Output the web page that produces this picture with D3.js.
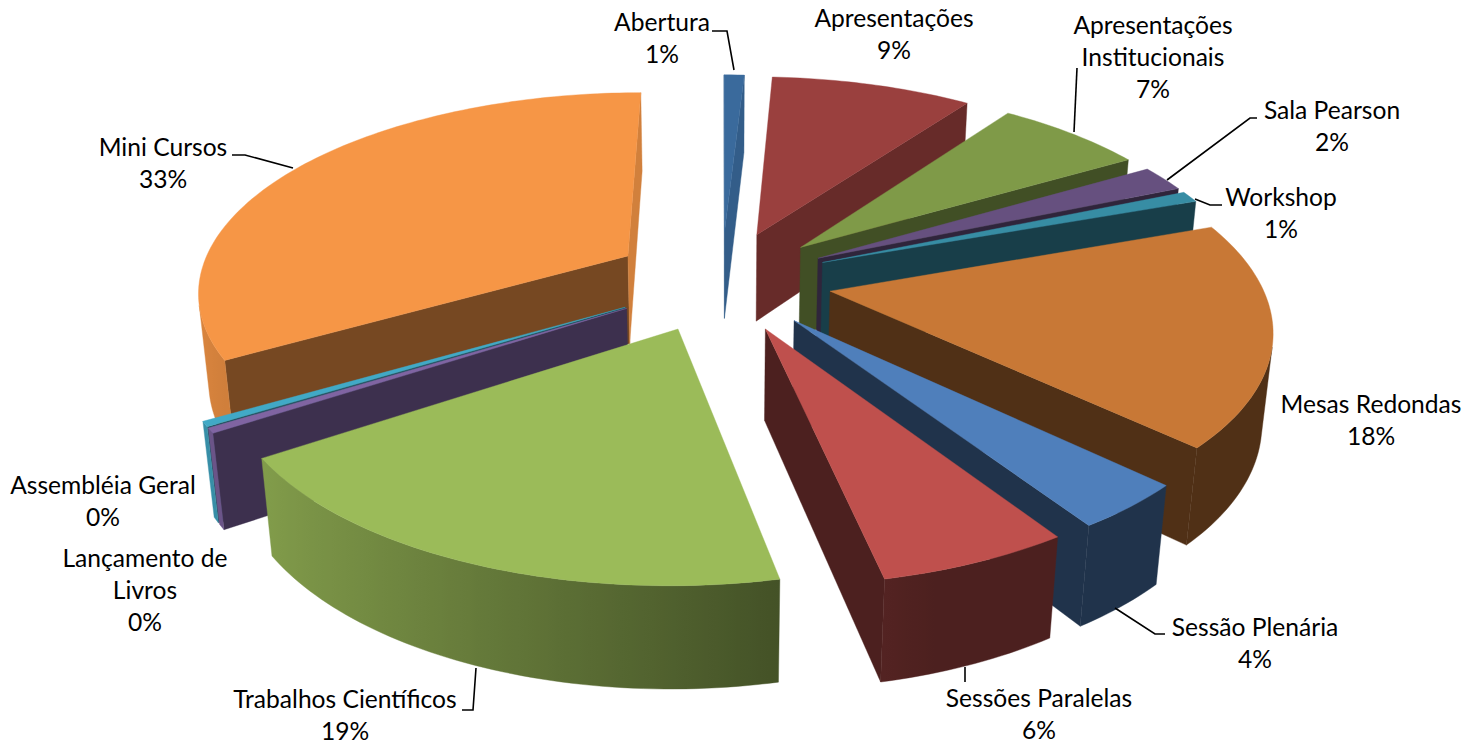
<!DOCTYPE html>
<html><head><meta charset="utf-8">
<script src="https://cdn.jsdelivr.net/npm/d3@7"></script>
<style>html,body{margin:0;background:#fff}svg{display:block}text{font-family:Lato,"Open Sans",sans-serif;font-size:24.6px;fill:#000}</style>
</head><body><svg id="c" width="1466" height="745"></svg>
<script>
const categories=["Abertura","Apresentações","Apresentações Institucionais","Sala Pearson","Workshop","Mesas Redondas","Sessão Plenária","Sessões Paralelas","Trabalhos Científicos","Lançamento de Livros","Assembléia Geral","Mini Cursos"];
const values=[0.9,9.0,6.6,2.1,0.9,17.6,3.6,5.9,19.0,0.4,0.4,33.4];
const colors=["#3a6a9c","#9a403e","#7f9a48","#66507f","#378da4","#c87836","#4f7fbb","#bf504d","#9bbb59","#8064a2","#41a9c6","#f69646"];
const labelLines=[["Abertura"],["Apresentações"],["Apresentações","Institucionais"],["Sala Pearson"],["Workshop"],["Mesas Redondas"],["Sessão Plenária"],["Sessões Paralelas"],["Trabalhos Científicos"],["Lançamento de","Livros"],["Assembléia Geral"],["Mini Cursos"]];
const labelAnchors=[[662,22.5],[894,18.5],[1153,25.5],[1332,110.5],[1281,197.5],[1371,404.5],[1255,627.5],[1039,699],[345,700],[145,558.5],[103,485.5],[163,147.5]];
const leaders=[[[712,31],[727,31],[734,70]],null,[[1077,68],[1074,132]],[[1257,118],[1250,118],[1167,180]],[[1222,205],[1210,205],[1195,199]],null,[[1165,634],[1155,634],[1115,608]],[[965,667],[965,682]],[[462,710],[473,710],[476,668]],null,null,[[232,155],[245,155],[293,168]]];

const cx=721.5,cy=280.5,R=430,E=110,H=102,F=2350,phi=27.3*Math.PI/180;
const sp=Math.sin(phi),cp=Math.cos(phi);
function project(x,y,z){const Yc=y*sp+z*cp,Zc=y*cp-z*sp,s=F/(F+Zc);return [cx+x*s,cy-Yc*s];}
const svg=d3.select("#c");
const defs=svg.append("defs");
const total=d3.sum(values);
const arcs=d3.pie().sort(null).value(d=>d)(values);
const line=d3.line();
function shade(c,f){const k=d3.rgb(c);return d3.rgb(k.r*f,k.g*f,k.b*f).formatHex();}
function area(p){let a=0;p.forEach((q,i)=>{const r=p[(i+1)%p.length];a+=q[0]*r[1]-r[0]*q[1];});return a/2;}
function rimShade(t){const nx=Math.sin(t);return nx>=0.3?0.4:0.4+(0.3-nx)/1.3*0.5;}
function radialShade(t){const deg=t*180/Math.PI;return deg>340?0.85:deg>180?0.48:Math.max(0.4,0.9-0.0065*deg);}
const faces=[];
arcs.map((a,i)=>({a,i,mid:(a.startAngle+a.endAngle)/2})).sort((u,v)=>Math.cos(v.mid)-Math.cos(u.mid)).forEach(({a,i,mid})=>{
  const ox=E*Math.sin(mid),oy=E*Math.cos(mid);
  const P=(r,t,z)=>project(ox+r*Math.sin(t),oy+r*Math.cos(t),z);
  const c=colors[i];
  const n=Math.max(2,Math.ceil((a.endAngle-a.startAngle)/0.02));
  const ts=d3.range(n+1).map(k=>a.startAngle+(a.endAngle-a.startAngle)*k/n);
  const radial=(t,sign)=>{
    const p=[P(0,0,0),P(R,t,0),P(R,t,-H),P(0,0,-H)];
    if(sign*area(p)<=0)return;
    faces.push({p,fill:shade(c,radialShade(t))});
  };
  radial(a.startAngle,-1);
  radial(a.endAngle,1);
  const vis=[];
  for(let k=0;k<n;k++){
    const q=[P(R,ts[k],0),P(R,ts[k+1],0),P(R,ts[k+1],-H),P(R,ts[k],-H)];
    if(area(q)<0)vis.push(k);
  }
  if(vis.length){
    const tv=[...vis.map(k=>ts[k]),ts[vis[vis.length-1]+1]];
    const up=tv.map(t=>P(R,t,0)),dn=tv.map(t=>P(R,t,-H)).reverse();
    const xs=up.map(q=>q[0]),x0=d3.min(xs),x1=d3.max(xs);
    const id="rim"+i;
    const g=defs.append("linearGradient").attr("id",id).attr("gradientUnits","userSpaceOnUse")
      .attr("x1",x0).attr("x2",x1).attr("y1",0).attr("y2",0);
    const st=tv.map((t,j)=>({o:(xs[j]-x0)/(x1-x0||1),f:rimShade(t)})).sort((p,q)=>p.o-q.o);
    g.selectAll("stop").data(st).join("stop").attr("offset",d=>d.o).attr("stop-color",d=>shade(c,d.f));
    faces.push({p:[...up,...dn],fill:`url(#${id})`});
  }
  faces.push({p:[P(0,0,0),...ts.map(t=>P(R,t,0))],fill:c});
});
svg.append("g").selectAll("path").data(faces).join("path")
  .attr("d",d=>line(d.p)+"Z").attr("fill",d=>d.fill).attr("stroke",d=>d.fill).attr("stroke-width",0.4).attr("stroke-linejoin","round");
svg.append("g").selectAll("path").data(leaders.filter(Boolean)).join("path")
  .attr("d",d=>line(d)).attr("fill","none").attr("stroke","#000").attr("stroke-width",1.6);
const pct=d3.format(".0%");
const lg=svg.append("g").selectAll("text").data(categories).join("text")
  .attr("text-anchor","middle");
lg.each(function(d,i){
  const t=d3.select(this),ls=[...labelLines[i],pct(values[i]/total)];
  ls.forEach((s,j)=>t.append("tspan").attr("x",labelAnchors[i][0]).attr("y",labelAnchors[i][1]+8+j*32.4).text(s));
});
</script></body></html>
